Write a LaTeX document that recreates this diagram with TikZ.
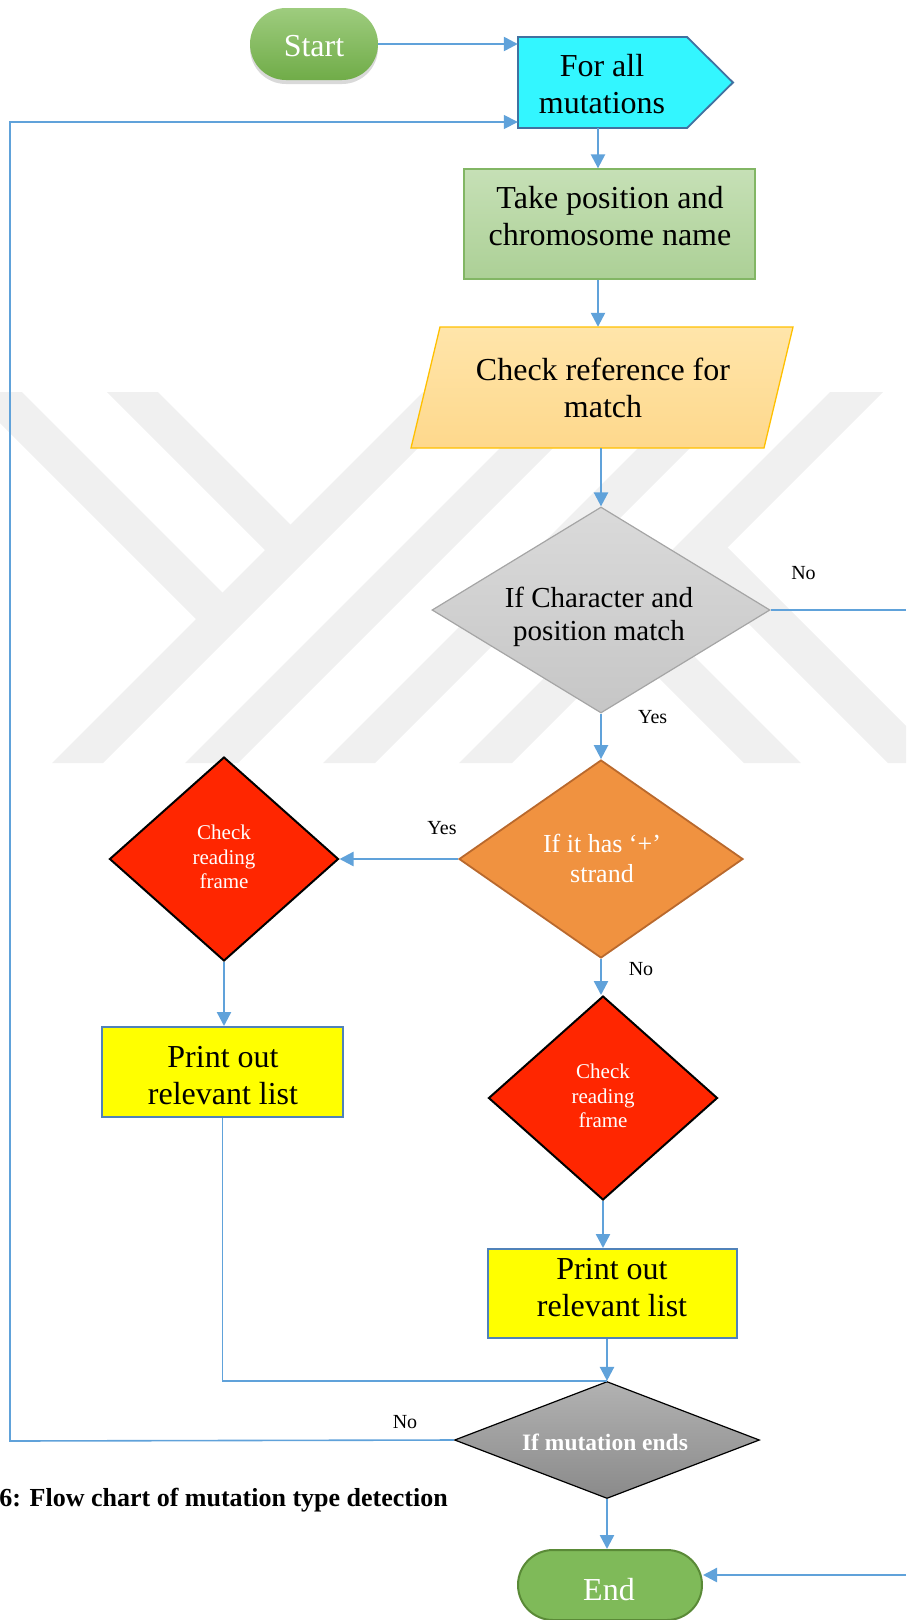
\documentclass[tikz,border=0pt]{standalone}
\usepackage{fontspec}
\setmainfont{Liberation Serif}
\usetikzlibrary{arrows.meta,shapes.geometric,shapes.misc,shadows}

\definecolor{linkblue}{RGB}{96,162,218}
\definecolor{startgreenA}{RGB}{158,204,126}
\definecolor{startgreenB}{RGB}{112,172,72}
\definecolor{loopcyan}{RGB}{51,246,255}
\definecolor{loopedge}{RGB}{65,113,160}
\definecolor{takeA}{RGB}{198,224,182}
\definecolor{takeB}{RGB}{172,208,150}
\definecolor{takeedge}{RGB}{130,182,100}
\definecolor{refA}{RGB}{255,229,170}
\definecolor{refB}{RGB}{254,216,140}
\definecolor{refedge}{RGB}{255,192,0}
\definecolor{matchA}{RGB}{218,218,218}
\definecolor{matchB}{RGB}{198,198,198}
\definecolor{matchedge}{RGB}{165,165,165}
\definecolor{strandfill}{RGB}{240,146,64}
\definecolor{strandedge}{RGB}{185,105,45}
\definecolor{framered}{RGB}{255,38,0}
\definecolor{listyellow}{RGB}{255,255,0}
\definecolor{listedge}{RGB}{80,130,185}
\definecolor{endsA}{RGB}{178,178,178}
\definecolor{endsB}{RGB}{138,138,138}
\definecolor{endgreen}{RGB}{127,186,89}
\definecolor{endedge}{RGB}{90,138,55}
\definecolor{markgray}{RGB}{240,240,240}

\begin{document}
\begin{tikzpicture}[x=1pt,y=-1pt,
  link/.style={draw=linkblue,line width=2.4pt,-{Triangle[length=14pt,width=14pt]}},
  plainlink/.style={draw=linkblue,line width=1.6pt},
  txt/.style={inner sep=0pt,align=center},
  big/.style={txt,font=\fontsize{32}{37}\selectfont},
  lbl/.style={inner sep=0pt,font=\fontsize{20}{24}\selectfont},
  redq/.style={diamond,draw=black,line width=2pt,fill=framered,inner sep=0pt,
    minimum width=229pt,minimum height=204pt},
  redtxt/.style={txt,text=white,font=\fontsize{21}{24.5}\selectfont},
  listbox/.style={rectangle,draw=listedge,line width=2pt,fill=listyellow,inner sep=0pt},
]
\useasboundingbox (0,0) rectangle (906,1620);

% faint emblem behind the chart
\begin{scope}
  \clip (0,392) rectangle (906,763);
  \fill[markgray] (423,392) -- (474,392) -- (103,763) -- (52,763) -- cycle;
  \fill[markgray] (556,392) -- (609,392) -- (238,763) -- (185,763) -- cycle;
  \fill[markgray] (694,392) -- (746,392) -- (375,763) -- (323,763) -- cycle;
  \fill[markgray] (830,392) -- (883,392) -- (512,763) -- (459,763) -- cycle;
  \fill[markgray] (-31,392) -- (22,392) -- (235,605) -- (208.5,631.5) -- cycle;
  \fill[markgray] (107,392) -- (158,392) -- (303,537) -- (277.5,562.5) -- cycle;
  \fill[markgray] (545.5,564.5) -- (574,536) -- (801,763) -- (744,763) -- cycle;
  \fill[markgray] (686.5,561.5) -- (714,534) -- (943,763) -- (888,763) -- cycle;
\end{scope}

% start terminal
\node[rounded rectangle,minimum width=128pt,minimum height=72pt,inner sep=0pt,
  top color=startgreenA,bottom color=startgreenB,
  drop shadow={opacity=0.3,shadow xshift=0pt,shadow yshift=-4pt}] (start) at (314,44) {};
\node[txt,text=white,font=\fontsize{32}{36}\selectfont] (start-t) at (314,46) {Start};

% loop head (pentagon)
\filldraw[fill=loopcyan,draw=loopedge,line width=1.8pt]
  (518,37) -- (687,37) -- (733,82.5) -- (687,128) -- (518,128) -- cycle;
\node[inner sep=0pt,minimum width=160pt,minimum height=91pt] (forall) at (598,82.5) {};
\node[big] (forall-t) at (602,84) {For all\\mutations};

% read position
\node[rectangle,minimum width=291pt,minimum height=110pt,inner sep=0pt,
  draw=takeedge,line width=1.3pt,top color=takeA,bottom color=takeB] (take) at (609.5,224) {};
\node[big] (take-t) at (610,216) {Take position and\\chromosome name};

% reference check (parallelogram)
\path[draw=refedge,line width=1.3pt,top color=refA,bottom color=refB]
  (440,327) -- (793,327) -- (764,448) -- (411,448) -- cycle;
\node[inner sep=0pt,minimum width=353pt,minimum height=121pt] (ref) at (602,387.5) {};
\node[big] (ref-t) at (603,388) {Check reference for\\match};

% decisions and actions
\node[diamond,minimum width=338pt,minimum height=206pt,inner sep=0pt,
  draw=matchedge,line width=1.2pt,top color=matchA,bottom color=matchB] (match) at (601,610) {};
\node[txt,font=\fontsize{29}{33}\selectfont] (match-t) at (599,616.5) {If Character and\\position match};

\node[diamond,minimum width=284pt,minimum height=198pt,inner sep=0pt,
  draw=strandedge,line width=1.8pt,fill=strandfill] (strand) at (601,859) {};
\node[txt,text=white,font=\fontsize{26}{30}\selectfont] (strand-t) at (602,858.5) {If it has ‘+’\\strand};

\node[redq] (frameL) at (224,859) {};
\node[redtxt] (frameL-t) at (224,857) {Check\\reading\\frame};
\node[redq] (frameR) at (603,1098) {};
\node[redtxt] (frameR-t) at (603,1096) {Check\\reading\\frame};

\node[listbox,minimum width=241pt,minimum height=90pt] (listL) at (222.5,1072) {};
\node[big] (listL-t) at (223,1076) {Print out\\relevant list};
\node[listbox,minimum width=249pt,minimum height=89pt] (listR) at (612.5,1293.5) {};
\node[big] (listR-t) at (612,1287.5) {Print out\\relevant list};

\node[diamond,minimum width=305pt,minimum height=117pt,inner sep=0pt,
  draw=black,line width=1.2pt,top color=endsA,bottom color=endsB] (ends) at (607,1440) {};
\node[txt,text=white,font=\bfseries\fontsize{23.5}{28}\selectfont] (ends-t) at (605,1442) {If mutation ends};

\node[rounded rectangle,minimum width=184pt,minimum height=70pt,inner sep=0pt,
  fill=endgreen,draw=endedge,line width=2pt] (finish) at (610,1585) {};
\node[txt,text=white,font=\fontsize{32}{36}\selectfont] (finish-t) at (609,1590) {End};

% caption
\node[anchor=base east,inner sep=0pt,font=\bfseries\fontsize{26}{30}\selectfont] (caption)
  at (448,1506) {6: Flow chart of mutation type detection};

% connectors
\coordinate (loopbot) at (10,1441);
\coordinate (looptop) at (10,122);
\coordinate (noexit) at (906,610);
\coordinate (endentry) at (906,1575);

\draw[link] (start.east) -- (start.east -| forall.west);
\draw[link,line width=1.6pt] (ends.west) -- (loopbot) -- (looptop) -- (looptop -| forall.west);
\draw[link] (forall.south) -- (forall.south |- take.north);
\draw[link] (take.south -| forall.south) -- (ref.north -| forall.south);
\draw[link] (ref.south -| match.north) -- (match.north);
\draw[plainlink] (match.east) -- (noexit);
\draw[link] (match.south) -- (strand.north);
\draw[link] (strand.west) -- (frameL.east);
\draw[link] (strand.south) -- (strand.south |- frameR.north);
\draw[link] (frameL.south) -- (frameL.south |- listL.north);
\draw[link] (frameR.south) -- (frameR.south |- listR.north);
\draw[plainlink] (listL.south) |- (ends.north);
\draw[link] (listR.south -| ends.north) -- (ends.north);
\draw[link] (ends.south) -- (ends.south |- finish.north);
\draw[link] (endentry) -- (endentry -| finish.east);

% branch labels
\node[lbl] (no1) at (803.5,573) {No};
\node[lbl] (yes1) at (652.7,717) {Yes};
\node[lbl] (yes2) at (442,828) {Yes};
\node[lbl] (no2) at (641,969) {No};
\node[lbl] (no3) at (405,1422) {No};
\end{tikzpicture}
\end{document}
